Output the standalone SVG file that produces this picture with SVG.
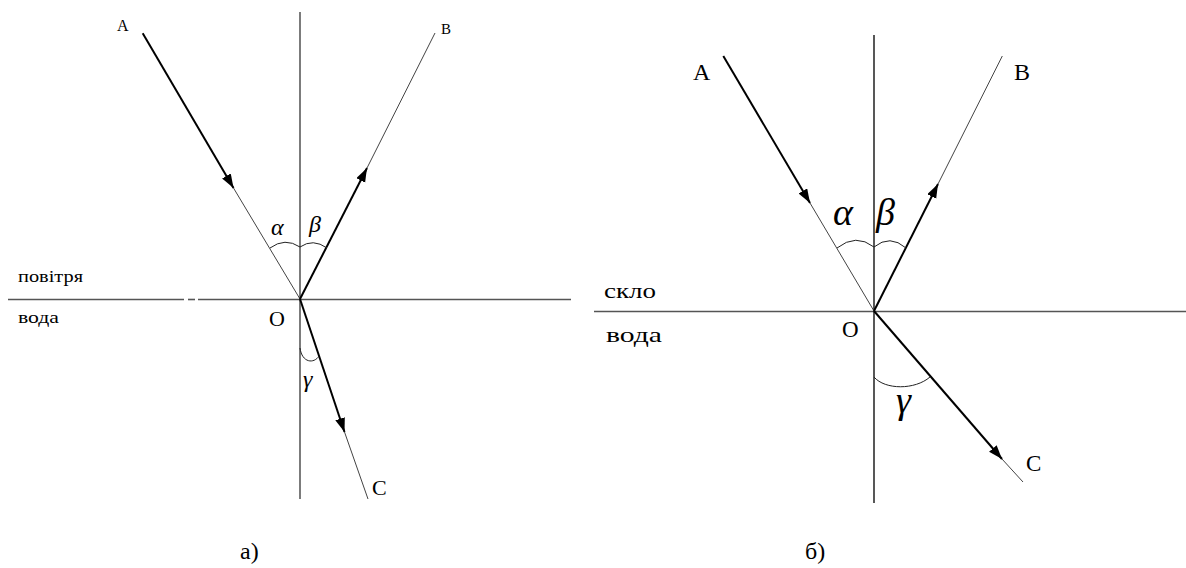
<svg xmlns="http://www.w3.org/2000/svg" width="1186" height="568" viewBox="0 0 1186 568">
<style>
.bg{fill:#fff}
.axis{stroke:#555;stroke-width:1.6;fill:none}
.norm{stroke:#444;stroke-width:1.4;fill:none}
.thin{stroke:#444;stroke-width:1;fill:none}
.thick{stroke:#000;stroke-width:2;fill:none}
.arc{stroke:#222;stroke-width:1;fill:none}
.mono{font-family:"Liberation Serif","Times New Roman",serif;fill:#000}
.lbl{font-family:"Liberation Serif","Times New Roman",serif;fill:#000}
.greek{font-family:"Liberation Serif","Times New Roman",serif;font-style:italic;fill:#000}
</style>
<defs>
<marker id="ah" markerUnits="userSpaceOnUse" markerWidth="15" markerHeight="11" refX="14" refY="5" orient="auto">
<path d="M0,0 L14,5 L0,10 z" fill="#000"/>
</marker>
</defs>
<rect class="bg" x="0" y="0" width="1186" height="568"/>

<g id="figure-a">
<g id="a-media">
<line class="axis" x1="8" y1="299.5" x2="184" y2="299.5"/>
<line class="axis" x1="188" y1="299.5" x2="195" y2="299.5"/>
<line class="axis" x1="198" y1="299.5" x2="571" y2="299.5"/>
<line class="norm" x1="300" y1="12" x2="300" y2="499"/>
<text class="mono" x="18" y="282" font-size="16" textLength="65" lengthAdjust="spacingAndGlyphs">повітря</text>
<text class="mono" x="18" y="323" font-size="16" textLength="41" lengthAdjust="spacingAndGlyphs">вода</text>
</g>
<g id="a-connectors">
<line class="thick" x1="142.7" y1="33.3" x2="233.5" y2="188" marker-end="url(#ah)"/>
<line class="thin" x1="233.5" y1="188" x2="300" y2="299"/>
<line class="thick" x1="300" y1="299" x2="367" y2="168" marker-end="url(#ah)"/>
<line class="thin" x1="367" y1="168" x2="435" y2="33"/>
<line class="thick" x1="300" y1="299" x2="344.5" y2="432" marker-end="url(#ah)"/>
<line class="thin" x1="344.5" y1="432" x2="368" y2="499"/>
<path class="arc" d="M270,248 Q285,237 300,247 Q313,238 327,248"/>
<path class="arc" d="M300,348 C302,363 314,364 319,356"/>
</g>
<g id="a-labels">
<text class="lbl" x="117" y="31" font-size="16">A</text>
<text class="lbl" x="441" y="34" font-size="15">B</text>
<text class="lbl" x="269" y="326" font-size="22">O</text>
<text class="lbl" x="372" y="495" font-size="22">C</text>
<text class="greek" x="271" y="235" font-size="24">α</text>
<text class="greek" x="309" y="232" font-size="24">β</text>
<text class="greek" x="303" y="387" font-size="24">γ</text>
<text class="lbl" x="240" y="559" font-size="24">а)</text>
</g>
</g>

<g id="figure-b">
<g id="b-media">
<line class="axis" x1="594" y1="311.5" x2="1186" y2="311.5"/>
<line class="norm" x1="874" y1="35" x2="874" y2="503" style="stroke:#111"/>
<text class="mono" x="604" y="298" font-size="22" textLength="52" lengthAdjust="spacingAndGlyphs">скло</text>
<text class="mono" x="606" y="342" font-size="22" textLength="56" lengthAdjust="spacingAndGlyphs">вода</text>
</g>
<g id="b-connectors">
<line class="thick" x1="723.3" y1="56" x2="810" y2="203" marker-end="url(#ah)"/>
<line class="thin" x1="810" y1="203" x2="874" y2="311"/>
<line class="thick" x1="874" y1="311" x2="938" y2="184" marker-end="url(#ah)"/>
<line class="thin" x1="938" y1="184" x2="1002.3" y2="56"/>
<line class="thick" x1="874" y1="311" x2="1002" y2="459" marker-end="url(#ah)"/>
<line class="thin" x1="1002" y1="459" x2="1023" y2="482"/>
<path class="arc" d="M837,248 Q856,233 874,247 Q890,234 906,248"/>
<path class="arc" d="M874,377 C885,390 915,390 930,377"/>
</g>
<g id="b-labels">
<text class="lbl" x="693" y="80" font-size="24">A</text>
<text class="lbl" x="1014" y="80" font-size="24">B</text>
<text class="lbl" x="842" y="337" font-size="23">O</text>
<text class="lbl" x="1026" y="471" font-size="23">C</text>
<text class="greek" x="833" y="225" font-size="38">α</text>
<text class="greek" x="876" y="225" font-size="38">β</text>
<text class="greek" x="896" y="413" font-size="38">γ</text>
<text class="lbl" x="805" y="559" font-size="24">б)</text>
</g>
</g>
</svg>
